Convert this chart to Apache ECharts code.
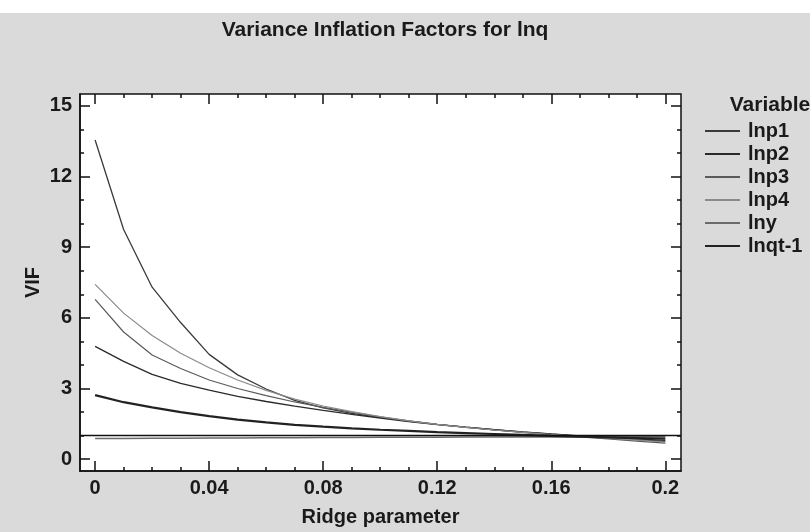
<!DOCTYPE html>
<html><head><meta charset="utf-8">
<script src="https://cdn.jsdelivr.net/npm/echarts@6/dist/echarts.min.js"></script>
<style>html,body{margin:0;padding:0;background:#fff}#chart{width:810px;height:532px}</style>
</head><body><div id="chart"></div>
<script>
const ridgeK = [0,0.01,0.02,0.03,0.04,0.05,0.06,0.07,0.08,0.09,0.10,0.11,0.12,0.13,0.14,0.15,0.16,0.17,0.18,0.19,0.20];
const lnp1 = [13.55,9.75,7.3,5.8,4.45,3.58,2.98,2.5,2.18,1.95,1.78,1.62,1.48,1.36,1.25,1.15,1.06,0.98,0.9,0.83,0.76];
const lnp2 = [4.79,4.15,3.6,3.22,2.93,2.67,2.45,2.25,2.07,1.9,1.75,1.6,1.47,1.36,1.26,1.16,1.07,0.99,0.92,0.86,0.8];
const lnp3 = [6.78,5.4,4.42,3.85,3.36,3.0,2.7,2.43,2.2,2.0,1.8,1.63,1.48,1.35,1.24,1.14,1.04,0.95,0.86,0.77,0.68];
const lnp4 = [7.42,6.2,5.25,4.5,3.88,3.36,2.92,2.55,2.26,2.02,1.81,1.63,1.48,1.35,1.24,1.14,1.05,0.97,0.89,0.81,0.73];
const lny = [0.88,0.88,0.89,0.89,0.9,0.9,0.91,0.91,0.92,0.92,0.93,0.93,0.93,0.94,0.94,0.95,0.95,0.95,0.96,0.96,0.96];
const lnqt1 = [2.72,2.42,2.2,2.0,1.83,1.68,1.56,1.46,1.38,1.31,1.25,1.2,1.15,1.11,1.07,1.03,0.99,0.96,0.93,0.9,0.87];
const seriesNames = ['lnp1','lnp2','lnp3','lnp4','lny','lnqt-1'];
const xMajorTicks = [0,0.04,0.08,0.12,0.16,0.2];
const xMinorTicks = [0.01,0.02,0.03,0.05,0.06,0.07,0.09,0.10,0.11,0.13,0.14,0.15,0.17,0.18,0.19];
const yMajorTicks = [0,3,6,9,12,15];
const yMinorTicks = [1,2,4,5,7,8,10,11,13,14];
const refLineVIF = 1;

const FONT = "'Liberation Sans', Arial, sans-serif";
const TXT = '#1a1a1a';
const AX = '#111';
const xMin = -0.0053, xMax = 0.2055, yMin = -0.5, yMax = 15.5;

const seriesData = [lnp1, lnp2, lnp3, lnp4, lny, lnqt1];
const colors = ['#3a3a3a', '#2a2a2a', '#5a5a5a', '#8a8a8a', '#6a6a6a', '#222222'];
const widths = [1.3, 1.3, 1.2, 1.2, 1.6, 2.2];

function xAx(pos, ticks, len, labels) {
  return {
    type: 'value', position: pos, min: xMin, max: xMax, gridIndex: 0,
    axisLine: {show: labels, onZero: false, lineStyle: {color: AX, width: 1.5}},
    splitLine: {show: false},
    axisTick: {show: true, inside: true, length: len, customValues: ticks, lineStyle: {color: AX, width: 1.5}},
    axisLabel: {show: labels, customValues: ticks, margin: 7, fontFamily: FONT, fontWeight: 'bold', fontSize: 20, color: TXT,
      formatter: v => String(Math.round(v * 100) / 100)},
    name: labels ? 'Ridge parameter' : '', nameLocation: 'middle', nameGap: 36, nameMoveOverlap: false,
    nameTextStyle: {fontFamily: FONT, fontWeight: 'bold', fontSize: 20, color: TXT}
  };
}
function yAx(pos, ticks, len, labels) {
  return {
    type: 'value', position: pos, min: yMin, max: yMax, gridIndex: 0,
    axisLine: {show: labels, onZero: false, lineStyle: {color: AX, width: 1.5}},
    splitLine: {show: false},
    axisTick: {show: true, inside: true, length: len, customValues: ticks, lineStyle: {color: AX, width: 1.5}},
    axisLabel: {show: labels, customValues: ticks, margin: 8, fontFamily: FONT, fontWeight: 'bold', fontSize: 20, color: TXT},
    name: labels ? 'VIF' : '', nameLocation: 'middle', nameGap: 37, nameRotate: 90, nameMoveOverlap: false,
    nameTextStyle: {fontFamily: FONT, fontWeight: 'bold', fontSize: 20, color: TXT}
  };
}

const series = seriesNames.map((n, i) => ({
  name: n, type: 'line', xAxisIndex: 0, yAxisIndex: 0,
  symbol: 'none', smooth: false, silent: true, animation: false,
  color: colors[i],
  lineStyle: {color: colors[i], width: widths[i]},
  data: ridgeK.map((k, j) => [k, seriesData[i][j]]),
  z: 3
}));
series[0].markLine = {
  silent: true, symbol: 'none', animation: false,
  label: {show: false},
  lineStyle: {color: '#111', width: 1.3, type: 'solid'},
  data: [{yAxis: refLineVIF}]
};

const chart = echarts.init(document.getElementById('chart'), null, {renderer: 'canvas'});
chart.setOption({
  animation: false,
  backgroundColor: '#dadada',
  graphic: [{type: 'rect', left: 0, top: 0, shape: {width: 810, height: 13}, style: {fill: '#ffffff'}, z: -1}],
  title: [
    {text: 'Variance Inflation Factors for lnq', left: 380, top: 15, textAlign: 'center',
     textStyle: {fontFamily: FONT, fontWeight: 'bold', fontSize: 21, color: TXT}},
    {text: 'Variable', left: 765, top: 90, textAlign: 'center',
     textStyle: {fontFamily: FONT, fontWeight: 'bold', fontSize: 21, color: TXT}}
  ],
  legend: {
    orient: 'vertical', left: 705, top: 121, padding: 0, itemWidth: 35, itemHeight: 2, itemGap: 3,
    icon: 'rect', data: seriesNames,
    textStyle: {fontFamily: FONT, fontWeight: 'bold', fontSize: 20, color: TXT, lineHeight: 20, padding: [0, 0, 0, 3]},
    selectedMode: false
  },
  grid: {left: 80, right: 129, top: 94, bottom: 61, show: true, backgroundColor: '#ffffff', borderColor: AX, borderWidth: 1.5, containLabel: false},
  xAxis: [
    xAx('bottom', xMajorTicks, 10, true),
    xAx('bottom', xMinorTicks, 4, false),
    xAx('top', xMajorTicks, 10, false),
    xAx('top', xMinorTicks, 4, false)
  ],
  yAxis: [
    yAx('left', yMajorTicks, 10, true),
    yAx('left', yMinorTicks, 4, false),
    yAx('right', yMajorTicks, 10, false),
    yAx('right', yMinorTicks, 4, false)
  ],
  series: series
});
</script></body></html>
